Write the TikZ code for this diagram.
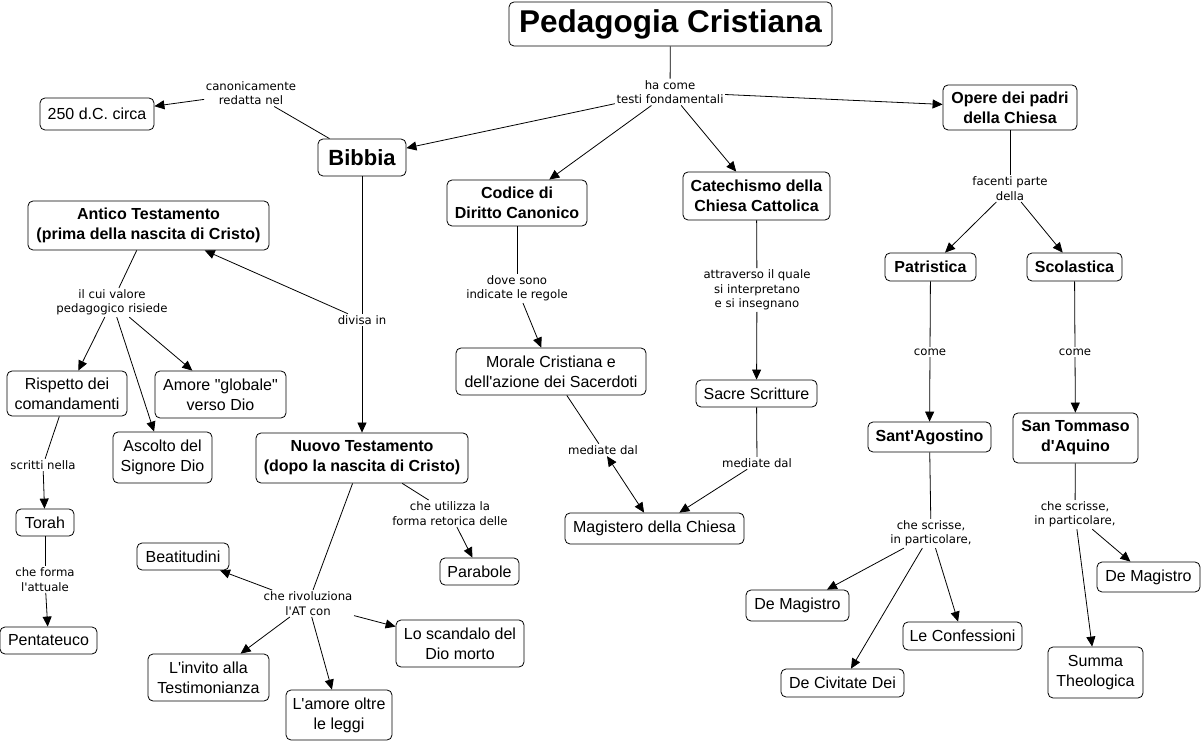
\documentclass[tikz,border=0pt]{standalone}
\usepackage{fontspec}
\setmainfont{Liberation Sans}
\newfontfamily\lpfont{DejaVu Sans}
\usetikzlibrary{arrows.meta}
\newcommand{\ap}{\textquotesingle}
\newcommand{\qd}{\textquotedbl}
\tikzset{
  sz/.style 2 args={minimum width=#1pt, minimum height=#2pt},
  cpt/.style={draw, rounded corners=5pt, line width=0.8pt, align=center, inner sep=0pt, font=\fontsize{16}{20}\selectfont},
  cptb/.style={cpt, font=\bfseries\fontsize{16}{20}\selectfont},
  lp/.style={align=center, inner sep=1.5pt, font=\lpfont\fontsize{11.7}{14.5}\selectfont},
  ln/.style={line width=0.8pt},
  ar/.style={ln, -{Triangle[length=10pt,width=9pt]}},
  arb/.style={ln, {Triangle[length=10pt,width=9pt]}-{Triangle[length=10pt,width=9pt]}}
}
\begin{document}
\begin{tikzpicture}[x=1pt,y=-1pt]
\useasboundingbox[fill=white] (0,0) rectangle (1203,743);
% concepts
\node[cptb, sz={323}{44}, font=\bfseries\fontsize{31.5}{34}\selectfont] (title) at (670.5,24) {Pedagogia Cristiana};
\node[cptb, sz={134}{45}] (opere) at (1010,107.5) {Opere dei padri\\della Chiesa};
\node[cpt, sz={114}{32}] (c250) at (97,114) {250 d.C. circa};
\node[cptb, sz={88}{37}, font=\bfseries\fontsize{22}{24}\selectfont] (bibbia) at (362,157.5) {Bibbia};
\node[cptb, sz={140}{46}] (codice) at (517,203) {Codice di\\Diritto Canonico};
\node[cptb, sz={147}{48}] (catech) at (756.5,196) {Catechismo della\\Chiesa Cattolica};
\node[cptb, sz={241}{49}] (antico) at (148.5,225.5) {Antico Testamento\\(prima della nascita di Cristo)};
\node[cptb, sz={91}{28}] (patr) at (930.5,267) {Patristica};
\node[cptb, sz={95}{28}] (scol) at (1074.5,267) {Scolastica};
\node[cpt, sz={190}{47}] (morale) at (551,371.5) {Morale Cristiana e\\dell\ap azione dei Sacerdoti};
\node[cpt, sz={120}{45}] (rispetto) at (67,393.5) {Rispetto dei\\comandamenti};
\node[cpt, sz={131}{47}] (amore) at (220.5,394.5) {Amore \qd globale\qd\\verso Dio};
\node[cpt, sz={121}{27}] (sacre) at (756.5,393.5) {Sacre Scritture};
\node[cpt, sz={99}{51}] (ascolto) at (162.5,457.5) {Ascolto del\\Signore Dio};
\node[cptb, sz={212}{50}] (nuovo) at (362,458) {Nuovo Testamento\\(dopo la nascita di Cristo)};
\node[cptb, sz={123}{30}] (agost) at (929.5,437) {Sant\ap Agostino};
\node[cptb, sz={125}{50}] (tommaso) at (1075.5,438) {San Tommaso\\d\ap Aquino};
\node[cpt, sz={58}{27}] (torah) at (45,522.5) {Torah};
\node[cpt, sz={179}{31}] (magistero) at (654.5,528.5) {Magistero della Chiesa};
\node[cpt, sz={92}{27}] (beat) at (183,556.5) {Beatitudini};
\node[cpt, sz={79}{27}] (parab) at (479.5,571.5) {Parabole};
\node[cpt, sz={103}{30}] (demagr) at (1148.5,577) {De Magistro};
\node[cpt, sz={103}{31}] (demagl) at (797.5,605.5) {De Magistro};
\node[cpt, sz={128}{47}] (scandalo) at (460,643.5) {Lo scandalo del\\Dio morto};
\node[cpt, sz={119}{28}] (confess) at (962.5,636) {Le Confessioni};
\node[cpt, sz={97}{27}] (penta) at (48.5,640.5) {Pentateuco};
\node[cpt, sz={121}{47}] (invito) at (208.5,677.5) {L\ap invito alla\\Testimonianza};
\node[cpt, sz={95}{51}] (summa) at (1095.5,672.5) {Summa\\Theologica};
\node[cpt, sz={123}{28}] (civitate) at (842.5,683) {De Civitate Dei};
\node[cpt, sz={106}{50}] (amoreoltre) at (339,715) {L\ap amore oltre\\le leggi};
% linking phrases
\node[lp] (lhacome) at (670,92) {ha come\\testi fondamentali};
\node[lp] (lcanon) at (251,93) {canonicamente\\redatta nel};
\node[lp] (lfacenti) at (1010,188.5) {facenti parte\\della};
\node[lp] (lcui) at (112,302.5) {il cui valore\\pedagogico risiede};
\node[lp] (ldivisa) at (362,320) {divisa in};
\node[lp] (ldove) at (517,288.5) {dove sono\\indicate le regole};
\node[lp] (lattr) at (757,290) {attraverso il quale\\si interpretano\\e si insegnano};
\node[lp] (lcomel) at (930,352) {come};
\node[lp] (lcomer) at (1075,352) {come};
\node[lp] (lscritti) at (43,465) {scritti nella};
\node[lp] (lmedl) at (603,450) {mediate dal};
\node[lp] (lmedr) at (757,463) {mediate dal};
\node[lp] (lutil) at (450,513.5) {che utilizza la\\forma retorica delle};
\node[lp] (lscrissel) at (931,533.5) {che scrisse,\\in particolare,};
\node[lp] (lscrisser) at (1075,514.5) {che scrisse,\\in particolare,};
\node[lp] (lforma) at (45,579.5) {che forma\\l\ap attuale};
\node[lp] (lrivol) at (308,603.5) {che rivoluziona\\l\ap AT con};
% connectors
\draw[ln] (title) -- (lhacome);
\draw[ar] (lhacome) -- (bibbia);
\draw[ar] (lhacome) -- (codice);
\draw[ar] (lhacome) -- (catech);
\draw[ar] (lhacome) -- (opere);
\draw[ln] (bibbia) -- (lcanon);
\draw[ar] (lcanon) -- (c250);
\draw[ln] (bibbia) -- (ldivisa);
\draw[ar] (ldivisa) -- (antico);
\draw[ar] (ldivisa) -- (nuovo);
\draw[ln] (antico) -- (lcui);
\draw[ar] (lcui) -- (rispetto);
\draw[ar] (lcui) -- (ascolto);
\draw[ar] (lcui) -- (amore);
\draw[ln] (rispetto) -- (lscritti);
\draw[ar] (lscritti) -- (torah);
\draw[ln] (torah) -- (lforma);
\draw[ar] (lforma) -- (penta);
\draw[ln] (nuovo) -- (lutil);
\draw[ar] (lutil) -- (parab);
\draw[ln] (nuovo) -- (lrivol);
\draw[ar] (lrivol) -- (beat);
\draw[ar] (lrivol) -- (invito);
\draw[ar] (lrivol) -- (amoreoltre);
\draw[ar] (lrivol) -- (scandalo);
\draw[ln] (codice) -- (ldove);
\draw[ar] (ldove) -- (morale);
\draw[ln] (catech) -- (lattr);
\draw[ar] (lattr) -- (sacre);
\draw[arb] (morale) -- (lmedl) -- (magistero);
\draw[ln] (sacre) -- (lmedr);
\draw[ar] (lmedr) -- (magistero);
\draw[ln] (opere) -- (lfacenti);
\draw[ar] (lfacenti) -- (patr);
\draw[ar] (lfacenti) -- (scol);
\draw[ln] (patr) -- (lcomel);
\draw[ar] (lcomel) -- (agost);
\draw[ln] (scol) -- (lcomer);
\draw[ar] (lcomer) -- (tommaso);
\draw[ln] (agost) -- (lscrissel);
\draw[ar] (lscrissel) -- (demagl);
\draw[ar] (lscrissel) -- (civitate);
\draw[ar] (lscrissel) -- (confess);
\draw[ln] (tommaso) -- (lscrisser);
\draw[ar] (lscrisser) -- (demagr);
\draw[ar] (lscrisser) -- (summa);
\end{tikzpicture}
\end{document}
